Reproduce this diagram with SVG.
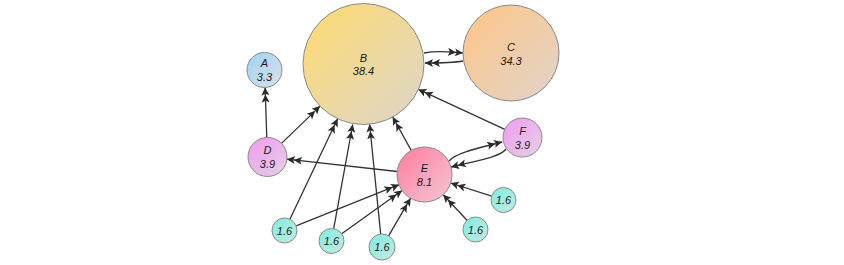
<svg xmlns="http://www.w3.org/2000/svg" width="844" height="265" viewBox="0 0 844 265">
<style>
.n{stroke:#8a8a8a;stroke-width:1}
.t{font-family:"Liberation Sans",Arial,sans-serif;font-style:italic;font-size:11px;fill:#1a1a1a;text-anchor:middle}
.e{fill:none;stroke:#333;stroke-width:1.3;marker-end:url(#ah)}
</style>
<defs>
<marker id="ah" markerUnits="userSpaceOnUse" markerWidth="16" markerHeight="10" refX="15" refY="5" orient="auto" viewBox="0 0 16 10">
<path d="M0,1 L8,5 L0,9 L1.8,5 Z M7,1 L15,5 L7,9 L8.8,5 Z" fill="#2a2a2a"/>
</marker>
<linearGradient id="gB" x1="0" y1="0" x2="1" y2="1"><stop offset="0" stop-color="#ffdb6e"/><stop offset="1" stop-color="#dcd6cc"/></linearGradient>
<linearGradient id="gC" x1="0" y1="0" x2="1" y2="1"><stop offset="0" stop-color="#ffc585"/><stop offset="1" stop-color="#e0d4cc"/></linearGradient>
<linearGradient id="gA" x1="0" y1="0" x2="1" y2="1"><stop offset="0" stop-color="#9fd4f2"/><stop offset="1" stop-color="#d8e0ec"/></linearGradient>
<linearGradient id="gD" x1="0" y1="0" x2="1" y2="1"><stop offset="0" stop-color="#f29af2"/><stop offset="1" stop-color="#e2d2e4"/></linearGradient>
<linearGradient id="gE" x1="0" y1="0" x2="1" y2="1"><stop offset="0" stop-color="#ff7a9e"/><stop offset="1" stop-color="#f6c8d4"/></linearGradient>
<linearGradient id="gS" x1="0" y1="0" x2="1" y2="1"><stop offset="0" stop-color="#78f0de"/><stop offset="1" stop-color="#cae8e4"/></linearGradient>
</defs>
<g id="edges">
<path class="e" d="M424,53 C438,50 450,52 463,53"/>
<path class="e" d="M463,61 C452,63 440,63 425,63"/>
<path class="e" d="M266.8,137.5 L265.1,87.5"/>
<path class="e" d="M281.5,143.4 L320.1,106.1"/>
<path class="e" d="M397.2,171.5 L286.9,159.2"/>
<path class="e" d="M411.2,150.4 L392.7,117"/>
<path class="e" d="M504.8,129.3 L418.4,89.4"/>
<path class="e" d="M289.9,219.2 L337.6,118.7"/>
<path class="e" d="M333.7,228.7 L352.7,124.5"/>
<path class="e" d="M380.7,234.1 L369.6,124.2"/>
<path class="e" d="M296.1,225.9 L399,184.7"/>
<path class="e" d="M341.7,233.7 L402.1,190.5"/>
<path class="e" d="M388.6,235.8 L410.6,198.2"/>
<path class="e" d="M467,220.3 L443.2,194.7"/>
<path class="e" d="M491.6,196.2 L450.7,183"/>
<path class="e" d="M449,161 C455,154 470,150 502,142"/>
<path class="e" d="M506,149 C500,157 480,160 451,167"/>
</g>
<g id="B"><circle class="n" cx="363.5" cy="64" r="60.5" fill="url(#gB)"/><text class="t" x="363.5" y="62">B</text><text class="t" x="363.5" y="75">38.4</text></g>
<g id="C"><circle class="n" cx="511" cy="53" r="48" fill="url(#gC)"/><text class="t" x="511" y="51">C</text><text class="t" x="511" y="65">34.3</text></g>
<g id="A"><circle class="n" cx="264.5" cy="70" r="17.5" fill="url(#gA)"/><text class="t" x="264.5" y="67">A</text><text class="t" x="264.5" y="81">3.3</text></g>
<g id="D"><circle class="n" cx="267.5" cy="157" r="19.5" fill="url(#gD)"/><text class="t" x="267.5" y="154">D</text><text class="t" x="267.5" y="168">3.9</text></g>
<g id="E"><circle class="n" cx="424.5" cy="174.5" r="27.5" fill="url(#gE)"/><text class="t" x="424.5" y="172">E</text><text class="t" x="424.5" y="186">8.1</text></g>
<g id="F"><circle class="n" cx="522.5" cy="137.5" r="19.5" fill="url(#gD)"/><text class="t" x="522.5" y="135">F</text><text class="t" x="522.5" y="149">3.9</text></g>
<g id="n1"><circle class="n" cx="284.5" cy="230.5" r="12.5" fill="url(#gS)"/><text class="t" x="284.5" y="234.5">1.6</text></g>
<g id="n2"><circle class="n" cx="331.5" cy="241" r="12.5" fill="url(#gS)"/><text class="t" x="331.5" y="245">1.6</text></g>
<g id="n3"><circle class="n" cx="382" cy="247" r="13" fill="url(#gS)"/><text class="t" x="382" y="251">1.6</text></g>
<g id="n4"><circle class="n" cx="475.5" cy="229.5" r="12.5" fill="url(#gS)"/><text class="t" x="475.5" y="233.5">1.6</text></g>
<g id="n5"><circle class="n" cx="503.5" cy="200" r="12.5" fill="url(#gS)"/><text class="t" x="503.5" y="204">1.6</text></g>
</svg>
